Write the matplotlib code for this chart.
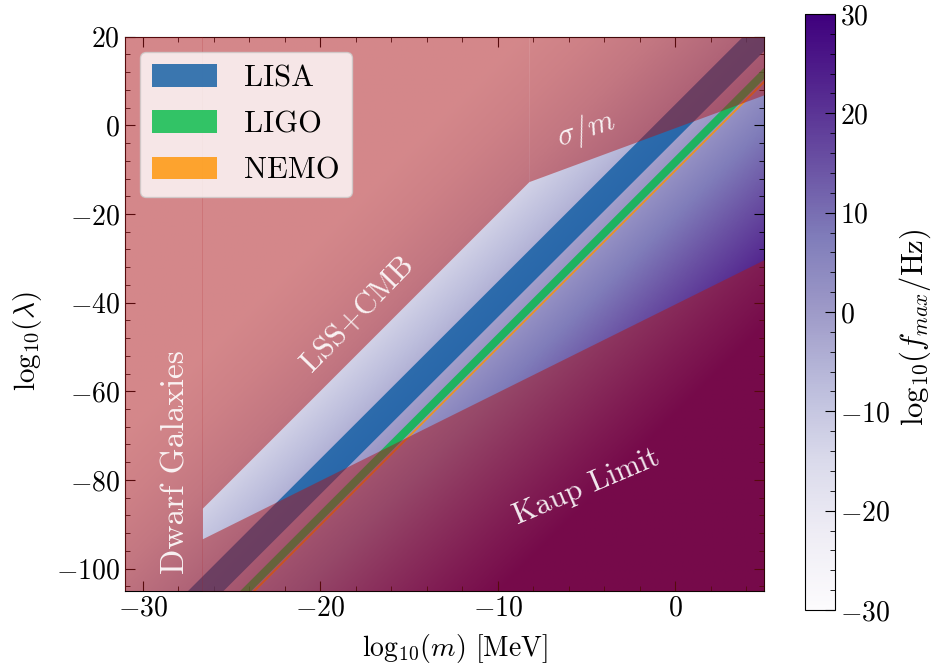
import numpy as np
import matplotlib
matplotlib.use("Agg")
import matplotlib.pyplot as plt
from matplotlib.patches import Patch
from matplotlib.ticker import MultipleLocator

plt.rcParams["font.family"] = "serif"
plt.rcParams["font.serif"] = ["cmr10"]
plt.rcParams["mathtext.fontset"] = "cm"
plt.rcParams["axes.formatter.use_mathtext"] = True

# ---------------- data ----------------
x_limits = (-31.0, 5.0)          # log10(m / MeV)
y_limits = (-105.0, 20.0)        # log10(lambda)

# allowed region boundaries
dwarf_x = -26.65
upper_bound_x = [-26.65, -8.25, 5.0]     # LSS+CMB then sigma/m
upper_bound_y = [-86.4, -12.7, 6.9]
kaup_x = [-26.65, 5.0]
kaup_y = [-93.3, -30.3]

# f_max model: log10(f/Hz) = a*log10(m) + b*log10(lambda) + c
fmax_coef_m = 2.0
fmax_coef_lam = -0.5
fmax_const = -2.64

# detector bands in log10(f/Hz)
band_names = ["LISA", "LIGO", "NEMO"]
band_logf_lo = [-5.0, 0.76, 2.2]
band_logf_hi = [-1.0, 2.02, 2.5]
band_colors = ["#0b5aa2", "#01bb46", "#ff9200"]

cbar_ticks = [-30, -20, -10, 0, 10, 20, 30]
cbar_range = (-30, 30)

excl_color = "#ad1519"

# ---------------- figure ----------------
fig = plt.figure(figsize=(9.34, 6.64), dpi=100)
ax = fig.add_axes([0.1338, 0.1104, 0.6842, 0.8343])
cax = fig.add_axes([0.862, 0.0813, 0.032, 0.8976])

mg = np.linspace(x_limits[0], x_limits[1], 500)
lg = np.linspace(y_limits[0], y_limits[1], 500)
M, L = np.meshgrid(mg, lg)
logf = fmax_coef_m * M + fmax_coef_lam * L + fmax_const
im = ax.imshow(logf, origin="lower", extent=[*x_limits, *y_limits],
               aspect="auto", cmap="Purples", vmin=cbar_range[0],
               vmax=cbar_range[1], interpolation="bilinear", zorder=0)

xs = np.linspace(x_limits[0], x_limits[1], 200)
handles = []
for name, lo, hi, col in zip(band_names, band_logf_lo, band_logf_hi, band_colors):
    y_top = (fmax_coef_m * xs + fmax_const - lo) / (-fmax_coef_lam)
    y_bot = (fmax_coef_m * xs + fmax_const - hi) / (-fmax_coef_lam)
    ax.fill_between(xs, y_bot, y_top, color=col, alpha=0.8, lw=0, zorder=2)
    handles.append(Patch(facecolor=col, alpha=0.8, edgecolor="none", label=name))

# excluded regions
ax.fill_betweenx(list(y_limits), x_limits[0], dwarf_x + 0.022, color=excl_color,
                 alpha=0.5, lw=0, zorder=3)
ax.fill_between(upper_bound_x[:2], upper_bound_y[:2], y_limits[1],
                color=excl_color, alpha=0.5, lw=0, zorder=3)
ax.fill_between(upper_bound_x[1:], upper_bound_y[1:], y_limits[1],
                color=excl_color, alpha=0.5, lw=0, zorder=3)
ax.fill_between(kaup_x, y_limits[0], kaup_y, color=excl_color,
                alpha=0.5, lw=0, zorder=3)

tkw = dict(color="white", alpha=0.9, ha="center", va="center", zorder=5)
ax.text(-28.1, -76, "Dwarf Galaxies", rotation=90, fontsize=24, **tkw)
ax.text(-17.9, -42.5, "LSS+CMB", rotation=46, fontsize=22, **tkw)
ax.text(-5.0, -1.0, r"$\sigma/m$", rotation=18, fontsize=22, **tkw)
ax.text(-5.0, -81.5, "Kaup Limit", rotation=23, fontsize=22, **tkw)

ax.set_xlim(*x_limits)
ax.set_ylim(*y_limits)
ax.xaxis.set_major_locator(MultipleLocator(10))
ax.xaxis.set_minor_locator(MultipleLocator(2))
ax.yaxis.set_major_locator(MultipleLocator(20))
ax.yaxis.set_minor_locator(MultipleLocator(4))
ax.tick_params(which="both", direction="in", top=True, right=True, labelsize=20)
ax.tick_params(which="major", length=7)
ax.tick_params(which="minor", length=3.5)
ax.set_xlabel(r"$\mathrm{log}_{10}(m)$ [MeV]", fontsize=20)
ax.set_ylabel(r"$\mathrm{log}_{10}(\lambda)$", fontsize=21)
ax.xaxis.set_label_coords(0.516, -0.075)
ax.yaxis.set_label_coords(-0.127, 0.45)

leg = ax.legend(handles=handles, loc="upper left", fontsize=22,
                handlelength=2.1, handleheight=0.75, labelspacing=0.6,
                handletextpad=0.9, borderpad=0.4, framealpha=0.8)
leg.set_zorder(10)

cb = fig.colorbar(im, cax=cax)
cb.set_ticks(cbar_ticks)
cb.ax.yaxis.set_minor_locator(MultipleLocator(2))
cb.ax.tick_params(which="both", direction="in", labelsize=20)
cb.ax.tick_params(which="major", length=7)
cb.ax.tick_params(which="minor", length=3.5)
cb.set_label(r"$\mathrm{log}_{10}(f_{max}/\mathrm{Hz})$", fontsize=22)
cb.ax.yaxis.set_label_coords(3.1, 0.475)

fig.savefig("out.png", dpi=100)
